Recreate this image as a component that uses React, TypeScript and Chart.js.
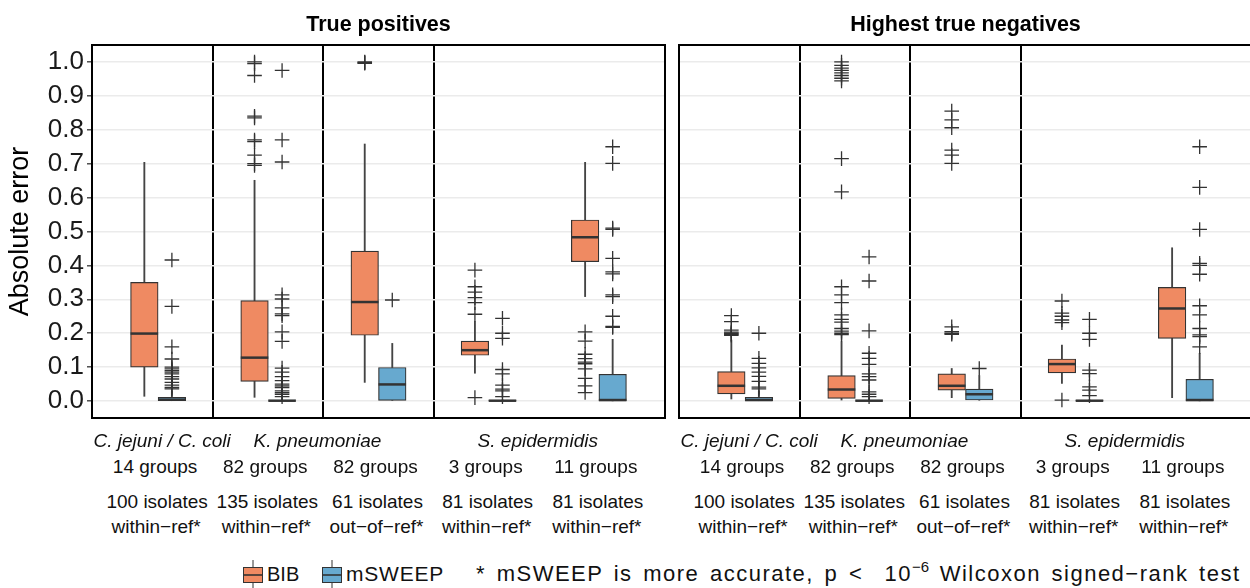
import React, { useEffect, useRef } from "react";
import { Chart, registerables } from "chart.js";

Chart.register(...registerables);

const FONT = '"Liberation Sans", Arial, Helvetica, sans-serif';
const ORANGE = "#EF8A62";
const BLUE = "#67A9CF";
const INK = "#333333";

// categories (5 per panel)
const speciesNames = ["C. jejuni / C. coli", "K. pneumoniae", "S. epidermidis"];
const speciesPos = [1, 2.5, 4.5];
const groupCounts = ["14 groups", "82 groups", "82 groups", "3 groups", "11 groups"];
const isolateCounts = ["100 isolates", "135 isolates", "61 isolates", "81 isolates", "81 isolates"];
const refTypes = ["within−ref*", "within−ref*", "out−of−ref*", "within−ref*", "within−ref*"];
const panelTitles = ["True positives", "Highest true negatives"];
const seriesNames = ["BIB", "mSWEEP"];
const yTicks = [0, 0.1, 0.2, 0.3, 0.4, 0.5, 0.6, 0.7, 0.8, 0.9, 1.0];
const dividers = [1.5, 2.5, 3.5];

// box stats: [lower whisker, q1, median, q3, upper whisker]
const tpBib = [
  [0.014, 0.1, 0.199, 0.35, 0.704],
  [0.011, 0.058, 0.128, 0.296, 0.651],
  [0.055, 0.194, 0.292, 0.442, 0.758],
  [0.082, 0.135, 0.15, 0.177, 0.235],
  [0.308, 0.411, 0.483, 0.534, 0.704],
];
const tpBibOut = [
  [],
  [1.0, 0.995, 0.96, 0.84, 0.835, 0.77, 0.765, 0.725, 0.7, 0.695],
  [1.0, 0.998, 0.996],
  [0.386, 0.337, 0.321, 0.305, 0.29, 0.256, 0.01],
  [0.204, 0.177, 0.138, 0.125, 0.115, 0.11, 0.095, 0.067, 0.045, 0.025],
];
const tpMsw = [
  [0, 0.001, 0.004, 0.011, 0.028],
  [0, 0, 0.001, 0.003, 0.006],
  [0, 0.002, 0.049, 0.099, 0.17],
  [0, 0, 0.001, 0.002, 0.004],
  [0, 0.0005, 0.003, 0.079, 0.182],
];
const tpMswOut = [
  [0.416, 0.279, 0.16, 0.124, 0.1, 0.095, 0.09, 0.085, 0.08, 0.072, 0.065, 0.055, 0.047, 0.04, 0.036],
  [0.975, 0.77, 0.705, 0.313, 0.301, 0.275, 0.257, 0.252, 0.204, 0.176, 0.097, 0.085, 0.072, 0.06, 0.05, 0.045, 0.04, 0.03, 0.025, 0.02, 0.013],
  [0.298],
  [0.244, 0.2, 0.185, 0.093, 0.08, 0.047, 0.035, 0.03, 0.013],
  [0.75, 0.701, 0.51, 0.506, 0.421, 0.381, 0.375, 0.313, 0.308, 0.25, 0.22, 0.217],
];

const tnBib = [
  [0.006, 0.021, 0.045, 0.087, 0.18],
  [0.003, 0.008, 0.034, 0.075, 0.175],
  [0.01, 0.032, 0.045, 0.08, 0.096],
  [0.052, 0.083, 0.109, 0.124, 0.165],
  [0.01, 0.185, 0.273, 0.335, 0.452],
];
const tnBibOut = [
  [0.252, 0.234, 0.209, 0.203, 0.2, 0.197, 0.194],
  [1.0, 0.99, 0.982, 0.975, 0.968, 0.96, 0.952, 0.944, 0.715, 0.617, 0.337, 0.313, 0.29, 0.254, 0.241, 0.233, 0.214, 0.206, 0.2, 0.196],
  [0.855, 0.829, 0.806, 0.74, 0.725, 0.701, 0.219, 0.205, 0.2, 0.197],
  [0.295, 0.259, 0.25, 0.239, 0.231, 0.003],
  [],
];
const tnMsw = [
  [0, 0.001, 0.003, 0.011, 0.03],
  [0, 0, 0.001, 0.003, 0.006],
  [0, 0.003, 0.02, 0.035, 0.075],
  [0, 0, 0.001, 0.002, 0.004],
  [0, 0.0005, 0.003, 0.064, 0.141],
];
const tnMswOut = [
  [0.2, 0.126, 0.111, 0.098, 0.085, 0.073, 0.058, 0.041, 0.036],
  [0.425, 0.354, 0.207, 0.141, 0.126, 0.108, 0.08, 0.072, 0.062, 0.027, 0.02, 0.013],
  [0.096],
  [0.241, 0.2, 0.182, 0.091, 0.081, 0.042, 0.032, 0.016],
  [0.75, 0.63, 0.506, 0.406, 0.4, 0.374, 0.281, 0.254, 0.214, 0.195, 0.19, 0.16],
];

// layout
const X_MIN = 0.4;
const X_MAX = 5.6;
const PANEL_W = 573;
const UNIT = PANEL_W / (X_MAX - X_MIN);
const BOX_W = UNIT * 0.25;
const PANEL_LEFTS = [92, 679];
const CANVAS_TOP = 25;
const CANVAS_H = 413;

function boxDatasets(stats: number[][], outs: number[][], color: string, offset: number) {
  const xs = stats.map((_, i) => i + 1 + offset);
  return [
    {
      type: "bar",
      data: stats.map((s, i) => ({ x: xs[i], y: [s[0], s[1]] })),
      backgroundColor: "#444",
      borderWidth: 0,
      barThickness: 1.2,
      grouped: false,
      order: 4,
    },
    {
      type: "bar",
      data: stats.map((s, i) => ({ x: xs[i], y: [s[3], s[4]] })),
      backgroundColor: "#444",
      borderWidth: 0,
      barThickness: 1.2,
      grouped: false,
      order: 4,
    },
    {
      type: "bar",
      data: stats.map((s, i) => ({ x: xs[i], y: [s[1], s[3]] })),
      backgroundColor: color,
      borderColor: INK,
      borderWidth: 1.2,
      borderSkipped: false,
      barThickness: BOX_W,
      grouped: false,
      order: 3,
    },
    {
      type: "scatter",
      data: stats.map((s, i) => ({ x: xs[i], y: s[2] })),
      pointStyle: "line",
      pointRadius: BOX_W / 2,
      pointBorderWidth: 2.5,
      pointBorderColor: INK,
      showLine: false,
      order: 2,
    },
    {
      type: "scatter",
      data: outs.flatMap((o, i) => o.map((v) => ({ x: xs[i], y: v }))),
      pointStyle: "cross",
      pointRadius: 7.3,
      pointBorderWidth: 1.3,
      pointBorderColor: INK,
      showLine: false,
      order: 1,
    },
  ];
}

const framePlugin = {
  id: "frame",
  afterDatasetsDraw(chart: any) {
    const { ctx, chartArea } = chart;
    ctx.save();
    ctx.strokeStyle = "#000";
    ctx.lineWidth = 2;
    ctx.strokeRect(chartArea.left, chartArea.top, chartArea.right - chartArea.left, chartArea.bottom - chartArea.top);
    ctx.restore();
  },
};

function BoxPanel(props: {
  bib: number[][];
  bibOut: number[][];
  msw: number[][];
  mswOut: number[][];
  showY: boolean;
  left: number;
  width: number;
}) {
  const ref = useRef<HTMLCanvasElement>(null);
  useEffect(() => {
    const { bib, bibOut, msw, mswOut, showY } = props;
    const chart = new Chart(ref.current as HTMLCanvasElement, {
      type: "bar",
      data: {
        datasets: [
          ...boxDatasets(bib, bibOut, ORANGE, -0.125),
          ...boxDatasets(msw, mswOut, BLUE, 0.125),
        ] as any,
      },
      options: {
        responsive: false,
        animation: false,
        events: [],
        layout: {
          autoPadding: false,
          padding: showY
            ? { left: 0, right: 2, top: 20, bottom: 20 }
            : { left: 2, right: 0, top: 20, bottom: 20 },
        },
        plugins: {
          legend: { display: false },
          tooltip: { enabled: false },
          title: { display: false },
        },
        scales: {
          x: {
            type: "linear",
            min: X_MIN,
            max: X_MAX,
            offset: false,
            afterBuildTicks: (s: any) => {
              s.ticks = dividers.map((v) => ({ value: v }));
            },
            ticks: { display: false },
            grid: { color: "#000", lineWidth: 2, drawTicks: false, offset: false },
            border: { display: false },
          },
          y: {
            type: "linear",
            min: -0.05,
            max: 1.05,
            afterBuildTicks: (s: any) => {
              s.ticks = yTicks.map((v) => ({ value: v }));
            },
            afterFit: (s: any) => {
              if (showY) s.width = 92;
            },
            ticks: {
              display: showY,
              callback: (v: any) => Number(v).toFixed(1),
              font: { family: FONT, size: 26 },
              color: "#1a1a1a",
              padding: 3,
            },
            grid: {
              color: "#EBEBEB",
              lineWidth: 1.6,
              drawTicks: showY,
              tickLength: 5,
              tickColor: INK,
              tickWidth: 1.3,
            },
            border: { display: false },
            title: {
              display: showY,
              text: "Absolute error",
              font: { family: FONT, size: 27 },
              color: "#000",
              padding: { top: 4, bottom: 0 },
            },
          },
        },
      } as any,
      plugins: [framePlugin],
    });
    return () => chart.destroy();
  }, []);
  return (
    <canvas
      ref={ref}
      width={props.width}
      height={CANVAS_H}
      style={{ position: "absolute", left: props.left, top: CANVAS_TOP, width: props.width, height: CANVAS_H, display: "block" }}
    />
  );
}

function Txt(props: { cx: number; top: number; size: number; children: any; style?: any }) {
  return (
    <div
      style={{
        position: "absolute",
        left: props.cx - 200,
        width: 400,
        top: props.top,
        textAlign: "center",
        fontSize: props.size,
        lineHeight: props.size + "px",
        whiteSpace: "nowrap",
        color: "#111",
        ...props.style,
      }}
    >
      {props.children}
    </div>
  );
}

function LegendKey({ color, left }: { color: string; left: number }) {
  return (
    <svg width={20} height={30} style={{ position: "absolute", left, top: 560, display: "block" }}>
      <line x1={10} y1={0} x2={10} y2={8} stroke={INK} strokeWidth={1} />
      <line x1={10} y1={22} x2={10} y2={30} stroke={INK} strokeWidth={1} />
      <rect x={0.5} y={7.5} width={19} height={15} fill={color} stroke={INK} strokeWidth={1} />
      <line x1={0.5} y1={15} x2={19.5} y2={15} stroke={INK} strokeWidth={1.6} />
    </svg>
  );
}

function LegText(props: { left: number; size: number; children: any; style?: any }) {
  return (
    <div
      style={{
        position: "absolute",
        left: props.left,
        top: 573.7 - 0.4885 * props.size,
        fontSize: props.size,
        lineHeight: props.size + "px",
        whiteSpace: "nowrap",
        color: "#111",
        ...props.style,
      }}
    >
      {props.children}
    </div>
  );
}

export default function App() {
  const px = (panel: number, pos: number) => PANEL_LEFTS[panel] + (pos - X_MIN) * UNIT;
  const speciesNudge = [4, -6, -6];
  return (
    <div
      style={{
        position: "fixed",
        left: 0,
        top: 0,
        width: 1250,
        height: 588,
        overflow: "hidden",
        background: "#fff",
        fontFamily: FONT,
      }}
    >
      <BoxPanel bib={tpBib} bibOut={tpBibOut} msw={tpMsw} mswOut={tpMswOut} showY={true} left={0} width={PANEL_LEFTS[0] + PANEL_W + 2} />
      <BoxPanel bib={tnBib} bibOut={tnBibOut} msw={tnMsw} mswOut={tnMswOut} showY={false} left={PANEL_LEFTS[1] - 2} width={PANEL_W + 2} />
      {panelTitles.map((t, p) => (
        <Txt key={t} cx={px(p, 3)} top={14} size={21.5} style={{ fontWeight: "bold", color: "#000" }}>
          {t}
        </Txt>
      ))}
      {[0, 1].map((p) => (
        <React.Fragment key={p}>
          {speciesNames.map((s, i) => (
            <Txt key={"s" + i} cx={px(p, speciesPos[i]) + speciesNudge[i]} top={431} size={19} style={{ fontStyle: "italic" }}>
              {s}
            </Txt>
          ))}
          {groupCounts.map((g, i) => (
            <Txt key={"g" + i} cx={px(p, i + 1) - 3} top={457} size={19}>
              {g}
            </Txt>
          ))}
          {isolateCounts.map((g, i) => (
            <Txt key={"i" + i} cx={px(p, i + 1) - 1} top={492} size={19}>
              {g}
            </Txt>
          ))}
          {refTypes.map((g, i) => (
            <Txt key={"r" + i} cx={px(p, i + 1) - 2} top={517} size={19}>
              {g}
            </Txt>
          ))}
        </React.Fragment>
      ))}
      <LegendKey color={ORANGE} left={243} />
      <LegText left={267} size={20}>{seriesNames[0]}</LegText>
      <LegendKey color={BLUE} left={322} />
      <LegText left={346} size={21} style={{ letterSpacing: "0.8px" }}>{seriesNames[1]}</LegText>
      <LegText left={476} size={22} style={{ letterSpacing: "1.5px", wordSpacing: "3px" }}>
        * mSWEEP is more accurate, p {"<"}&nbsp;&nbsp;10
        <span style={{ fontSize: 15, position: "relative", top: -9, lineHeight: 0, letterSpacing: 0 }}>−6</span> Wilcoxon signed−rank test
      </LegText>
    </div>
  );
}
